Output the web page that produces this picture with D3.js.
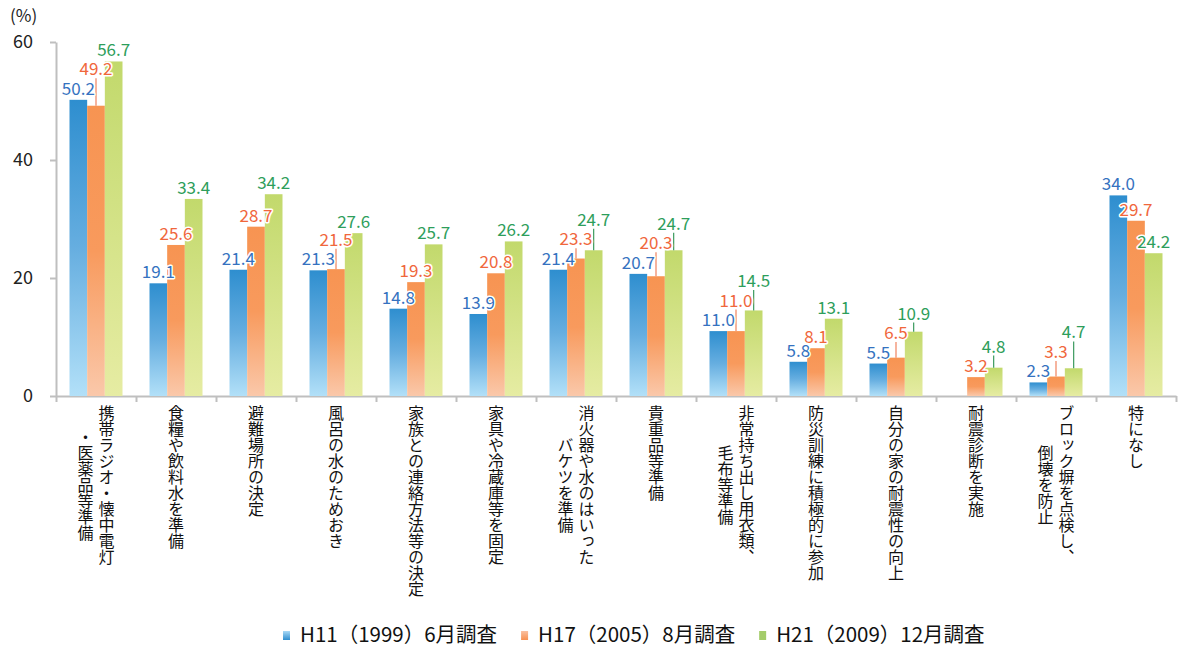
<!DOCTYPE html>
<html><head><meta charset="utf-8">
<script src="https://cdn.jsdelivr.net/npm/d3@7"></script>
<style>
html,body{margin:0;padding:0;background:#fff;}
svg{display:block;font-family:"Noto Sans CJK JP","Noto Sans",sans-serif;}
</style></head>
<body>
<svg id="chart" width="1181" height="651"></svg>
<script>
// ---- data ----
const categories = [
  "携帯ラジオ・懐中電灯\n・医薬品等準備",
  "食糧や飲料水を準備",
  "避難場所の決定",
  "風呂の水のためおき",
  "家族との連絡方法等の決定",
  "家具や冷蔵庫等を固定",
  "消火器や水のはいった\nバケツを準備",
  "貴重品等準備",
  "非常持ち出し用衣類、\n毛布等準備",
  "防災訓練に積極的に参加",
  "自分の家の耐震性の向上",
  "耐震診断を実施",
  "ブロック塀を点検し、\n倒壊を防止",
  "特になし"
];
const seriesNames = ["H11（1999）6月調査", "H17（2005）8月調査", "H21（2009）12月調査"];
const h11 = [50.2, 19.1, 21.4, 21.3, 14.8, 13.9, 21.4, 20.7, 11.0, 5.8, 5.5, null, 2.3, 34.0];
const h17 = [49.2, 25.6, 28.7, 21.5, 19.3, 20.8, 23.3, 20.3, 11.0, 8.1, 6.5, 3.2, 3.3, 29.7];
const h21 = [56.7, 33.4, 34.2, 27.6, 25.7, 26.2, 24.7, 24.7, 14.5, 13.1, 10.9, 4.8, 4.7, 24.2];
const yTicks = [0, 20, 40, 60];
const yUnit = "(%)";

(function () {
// ---- styling ----
const seriesData = [h11, h17, h21];
const keys = ["s0", "s1", "s2"];
const gradStops = [
  [[0, "#2E8ECF"], [0.5, "#66AEE0"], [1, "#B2E0F8"]],
  [[0, "#F79452"], [0.5, "#F89A5D"], [1, "#FAC8AA"]],
  [[0, "#C2D96C"], [1, "#E6ECA3"]]
];
const legendStops = [
  [[0, "#A9D9F6"], [1, "#2F8ECF"]],
  [[0, "#FAC0A0"], [1, "#F79050"]],
  [[0, "#A4CC6A"], [1, "#A4CC6A"]]
];
const textColors = ["#3572C0", "#F0673C", "#2E9E5B"];
const leaderColors = ["#3572C0", "#F0825E", "#3A9A5E"];

const svg = d3.select("#chart");
const defs = svg.append("defs");
gradStops.forEach((st, i) => {
  const g = defs.append("linearGradient").attr("id", "g" + i)
    .attr("x1", 0).attr("y1", 0).attr("x2", 0).attr("y2", 1);
  st.forEach(s => g.append("stop").attr("offset", s[0]).attr("stop-color", s[1]));
});
legendStops.forEach((st, i) => {
  const g = defs.append("linearGradient").attr("id", "lg" + i)
    .attr("x1", 0).attr("y1", 0).attr("x2", 0).attr("y2", 1);
  st.forEach(s => g.append("stop").attr("offset", s[0]).attr("stop-color", s[1]));
});

const mLeft = 56, mRight = 1176, mTop = 42, mBottom = 396;
const x = d3.scaleBand().domain(d3.range(categories.length)).range([mLeft, mRight]).padding(0);
const bw = x.bandwidth();
const x1 = d3.scaleBand().domain(keys).range([(bw - 53) / 2, (bw + 53) / 2]).padding(0);
const y = d3.scaleLinear().domain([0, 60]).range([mBottom, mTop]);

// y axis
const yAx = svg.append("g").attr("transform", `translate(${mLeft},0)`)
  .call(d3.axisLeft(y).tickValues(yTicks).tickSize(6).tickSizeOuter(0).tickPadding(17));
yAx.select(".domain").attr("stroke", "#BFBFBF").attr("stroke-width", 2);
yAx.selectAll(".tick line").attr("stroke", "#BFBFBF").attr("stroke-width", 2);
yAx.selectAll(".tick text").attr("font-size", 18).attr("fill", "#222")
  .attr("font-family", "'Noto Sans CJK JP',sans-serif");
svg.append("text").attr("x", 10).attr("y", 22).attr("font-size", 17).attr("fill", "#222")
  .text(yUnit);

// x axis (boundary ticks)
const xb = d3.scaleLinear().domain([0, categories.length]).range([mLeft, mRight]);
const xAx = svg.append("g").attr("transform", `translate(0,${mBottom})`)
  .call(d3.axisBottom(xb).tickValues(d3.range(categories.length + 1)).tickFormat("").tickSize(6).tickSizeOuter(0));
xAx.select(".domain").attr("stroke", "#BFBFBF").attr("stroke-width", 2);
xAx.selectAll(".tick line").attr("stroke", "#BFBFBF").attr("stroke-width", 2);

// bars
const groups = svg.append("g").selectAll("g").data(categories).join("g")
  .attr("transform", (d, i) => `translate(${x(i)},0)`);
groups.each(function (c, i) {
  const g = d3.select(this);
  seriesData.forEach((arr, s) => {
    const v = arr[i];
    if (v == null) return;
    g.append("rect").attr("x", x1(keys[s])).attr("width", x1.bandwidth())
      .attr("y", y(v)).attr("height", y(0) - y(v)).attr("fill", `url(#g${s})`);
  });
});

// value labels with simple collision avoidance & leader lines
const labelLayer = svg.append("g");
const fs = 17, capH = 13, gap = 5, stackGap = 6.5;
categories.forEach((c, i) => {
  const placed = [];
  seriesData.forEach((arr, s) => {
    const v = arr[i];
    if (v == null) return;
    const cx = x(i) + x1(keys[s]) + x1.bandwidth() / 2;
    const barTop = y(v);
    const t = labelLayer.append("text").attr("x", cx).attr("text-anchor", "middle")
      .attr("font-size", fs).attr("fill", textColors[s])
      .attr("stroke", "#fff").attr("stroke-width", 3).attr("paint-order", "stroke")
      .attr("stroke-linejoin", "round")
      .text(v.toFixed(1));
    const w = t.node().getComputedTextLength();
    let base = barTop - gap;
    let moved = false;
    let changed = true;
    while (changed) {
      changed = false;
      for (const p of placed) {
        const hOver = Math.abs(p.cx - cx) < (p.w + w) / 2;
        const vOver = base > p.top && base - capH < p.base;
        if (hOver && vOver) { base = p.top - stackGap; moved = true; changed = true; }
      }
    }
    t.attr("y", base);
    placed.push({cx, w, base, top: base - capH});
    if (moved) {
      labelLayer.insert("line", "text").attr("x1", cx).attr("x2", cx)
        .attr("y1", base + 3).attr("y2", barTop)
        .attr("stroke", leaderColors[s]).attr("stroke-width", 1.2);
    }
  });
});

// category labels (vertical)
const cfs = 16, labelTop = 405, colGap = 21;
categories.forEach((c, i) => {
  const lines = c.split("\n");
  const maxLen = d3.max(lines, l => l.length);
  const cy = labelTop + maxLen * cfs / 2;
  const cxc = x(i) + bw / 2;
  lines.forEach((l, k) => {
    const off = (lines.length - 1) / 2 * colGap - k * colGap;
    svg.append("text")
      .attr("x", cxc + off).attr("y", cy)
      .attr("text-anchor", "middle")
      .style("writing-mode", "vertical-rl")
      .attr("font-size", cfs).attr("fill", "#111")
      .text(l);
  });
});

// legend
const leg = svg.append("g");
let lx = 283;
seriesNames.forEach((n, s) => {
  leg.append("rect").attr("x", lx).attr("y", 631).attr("width", 7).attr("height", 9)
    .attr("fill", `url(#lg${s})`);
  const t = leg.append("text").attr("x", lx + 17).attr("y", 641.5)
    .attr("font-size", 20.5).attr("fill", "#111").text(n);
  lx = lx + 17 + t.node().getComputedTextLength() + 24;
});
})();
</script>
</body></html>
